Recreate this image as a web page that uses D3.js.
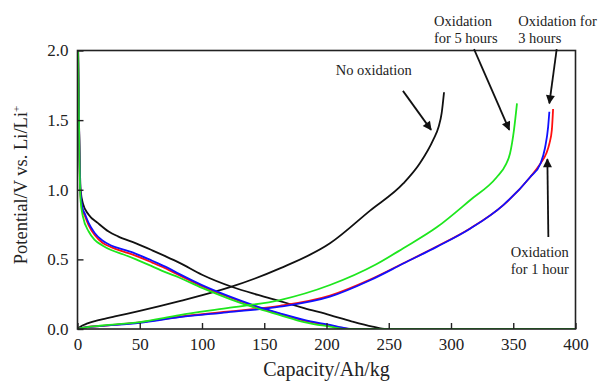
<!DOCTYPE html>
<html>
<head>
<meta charset="utf-8">
<script src="https://cdn.jsdelivr.net/npm/d3@7"></script>
<style>
    html, body { margin: 0; padding: 0; background: #fff; }
    svg { display: block; font-family: "Liberation Serif", "Times New Roman", serif; }
</style>
</head>
<body>
<div id="chart"></div>
<script>
// capacity (Ah/kg), potential (V)
const black_discharge = [[0.5, 2.0], [1, 1.6], [1.8, 1.2], [2.5, 1.0], [4.4, 0.9], [9, 0.82], [16.5, 0.76], [25, 0.7], [32.5, 0.665], [47, 0.615], [60, 0.565], [70, 0.525], [82, 0.475], [100, 0.39], [125, 0.3], [145, 0.245], [162.6, 0.2], [182, 0.15], [202.8, 0.1], [220, 0.055], [237, 0.017], [248, 0], [400, 0]];
const red_discharge = [[0.5, 2.0], [1, 1.6], [1.8, 1.13], [2.5, 0.95], [4, 0.855], [5.8, 0.815], [9, 0.745], [13.8, 0.675], [20, 0.62], [27, 0.588], [37, 0.556], [47, 0.525], [60, 0.477], [70, 0.438], [82, 0.385], [100, 0.307], [122.5, 0.226], [140, 0.17], [162.6, 0.108], [182, 0.06], [202.8, 0.025], [213, 0.008], [219, 0], [400, 0]];
const blue_discharge = [[0.5, 2.0], [1, 1.6], [1.8, 1.15], [2.5, 0.97], [4, 0.87], [5.8, 0.83], [9, 0.76], [13.8, 0.69], [20, 0.635], [27, 0.6], [37, 0.57], [47, 0.54], [60, 0.49], [70, 0.45], [82, 0.394], [100, 0.315], [122.5, 0.232], [140, 0.175], [162.6, 0.113], [182, 0.065], [202.8, 0.029], [213, 0.01], [219, 0], [400, 0]];
const green_discharge = [[0.5, 2.0], [1, 1.6], [1.8, 1.1], [2.5, 0.92], [4.4, 0.806], [9, 0.7], [13.8, 0.64], [20, 0.6], [27, 0.567], [37, 0.535], [47, 0.5], [60, 0.45], [70, 0.41], [82, 0.368], [100, 0.295], [122.5, 0.215], [140, 0.16], [162.6, 0.1], [182, 0.05], [202.8, 0.017], [215, 0], [400, 0]];

const black_charge = [[0, 0], [2, 0.015], [8, 0.04], [18, 0.065], [30, 0.09], [50, 0.13], [82, 0.2], [122.5, 0.3], [162.6, 0.435], [202.8, 0.615], [235, 0.85], [261.7, 1.045], [275, 1.19], [285.8, 1.36], [290, 1.45], [292.5, 1.55], [294.4, 1.7]];
const red_charge = [[0, 0], [5, 0.01], [20, 0.023], [50, 0.047], [82, 0.088], [120, 0.124], [162.6, 0.166], [202.8, 0.24], [235, 0.355], [261.7, 0.472], [288.5, 0.592], [315.3, 0.722], [342, 0.89], [363.5, 1.09], [372, 1.19], [376.5, 1.26], [379, 1.33], [381, 1.43], [382, 1.58]];
const blue_charge = [[0, 0], [5, 0.01], [20, 0.022], [50, 0.045], [82, 0.085], [120, 0.12], [162.6, 0.16], [202.8, 0.232], [235, 0.35], [261.7, 0.47], [288.5, 0.59], [315.3, 0.72], [342, 0.89], [363.5, 1.09], [372, 1.19], [375.5, 1.3], [378, 1.45], [379, 1.56]];
const green_charge = [[0, 0], [5, 0.01], [20, 0.025], [50, 0.05], [82, 0.1], [120, 0.15], [162.6, 0.208], [202.8, 0.316], [240, 0.465], [261.7, 0.58], [288.5, 0.73], [315.3, 0.925], [336.7, 1.09], [344, 1.18], [347.4, 1.26], [350.6, 1.43], [353, 1.62]];

const x_ticks = [0, 50, 100, 150, 200, 250, 300, 350, 400];
const y_ticks = [0, 0.5, 1.0, 1.5, 2.0];

// label lines, first baseline anchor (capacity, potential)
const notes = [
    { lines: ['No oxidation'], at: [207.4, 1.822] },
    { lines: ['Oxidation', 'for 5 hours'], at: [286.3, 2.177] },
    { lines: ['Oxidation for', '3 hours'], at: [354, 2.177] },
    { lines: ['Oxidation', 'for 1 hour'], at: [348, 0.52] },
];
// arrows: tail -> tip (capacity, potential)
const arrows = [
    [[261.4, 1.71], [284, 1.43]],
    [[318.5, 2.01], [346.8, 1.43]],
    [[384.9, 2.01], [379, 1.62]],
    [[378.2, 0.66], [377.4, 1.22]],
];

const width = 600;
const height = 382;
const margin = { top: 50.5, right: 24.5, bottom: 53, left: 77.5 };

const svg = d3.select('#chart')
    .append('svg')
    .attr('width', width)
    .attr('height', height);

const x = d3.scaleLinear().domain([0, 400]).range([margin.left, width - margin.right]);
const y = d3.scaleLinear().domain([0, 2]).range([height - margin.bottom, margin.top]);

const defs = svg.append('defs');
defs.append('marker')
    .attr('id', 'head')
    .attr('viewBox', '0 0 10 10')
    .attr('refX', 9)
    .attr('refY', 5)
    .attr('markerWidth', 10)
    .attr('markerHeight', 9)
    .attr('markerUnits', 'userSpaceOnUse')
    .attr('orient', 'auto')
    .append('path')
    .attr('d', 'M0,0 L10,5 L0,10 Z')
    .attr('fill', '#111');

defs.append('clipPath').attr('id', 'plot')
    .append('rect')
    .attr('x', margin.left)
    .attr('y', margin.top - 2)
    .attr('width', width - margin.left - margin.right)
    .attr('height', height - margin.top - margin.bottom + 2);

const line = d3.line()
    .x(d => x(d[0]))
    .y(d => y(d[1]))
    .curve(d3.curveMonotoneX);

const series = [
    { data: black_charge, color: '#111111' },
    { data: black_discharge, color: '#111111' },
    { data: red_charge, color: '#ff1010' },
    { data: red_discharge, color: '#ff1010' },
    { data: blue_charge, color: '#1010ff' },
    { data: blue_discharge, color: '#1010ff' },
    { data: green_charge, color: '#1ee61e' },
    { data: green_discharge, color: '#1ee61e' },
];

svg.append('g')
    .attr('clip-path', 'url(#plot)')
    .selectAll('path')
    .data(series)
    .enter()
    .append('path')
    .attr('fill', 'none')
    .attr('stroke', d => d.color)
    .attr('stroke-width', 1.8)
    .attr('d', d => line(d.data));

// frame
svg.append('rect')
    .attr('x', x(0))
    .attr('y', y(2))
    .attr('width', x(400) - x(0))
    .attr('height', y(0) - y(2))
    .attr('fill', 'none')
    .attr('stroke', '#222')
    .attr('stroke-width', 1.6);

const x_axis = svg.append('g')
    .attr('transform', `translate(0, ${y(0)})`)
    .call(d3.axisBottom(x).tickValues(x_ticks).tickSize(-6).tickPadding(9).tickFormat(d3.format('d')));

const y_axis = svg.append('g')
    .attr('transform', `translate(${x(0)}, 0)`)
    .call(d3.axisLeft(y).tickValues(y_ticks).tickSize(-6).tickPadding(9).tickFormat(d3.format('.1f')));

[x_axis, y_axis].forEach(axis => {
    axis.attr('font-family', null);
    axis.select('.domain').remove();
    axis.selectAll('.tick line').attr('stroke', '#222').attr('stroke-width', 1.4);
    axis.selectAll('.tick text')
        .attr('fill', '#222')
        .style('font-family', '"Liberation Serif", "Times New Roman", serif')
        .style('font-size', '17px');
});

svg.append('text')
    .attr('x', (x(0) + x(400)) / 2)
    .attr('y', 376)
    .attr('text-anchor', 'middle')
    .attr('fill', '#222')
    .style('font-size', '20px')
    .text('Capacity/Ah/kg');

const y_label = svg.append('text')
    .attr('transform', `translate(27, 185) rotate(-90)`)
    .attr('text-anchor', 'middle')
    .attr('fill', '#222')
    .style('font-size', '18.5px');
y_label.append('tspan').text('Potential/V vs. Li/Li');
y_label.append('tspan').attr('dy', -7).style('font-size', '11px').text('+');

// annotations
const note = svg.selectAll('.note')
    .data(notes)
    .enter()
    .append('text')
    .attr('class', 'note')
    .attr('fill', '#222')
    .style('font-size', '14.5px');

note.selectAll('tspan')
    .data(d => d.lines.map((t, i) => ({ t, i, at: d.at })))
    .enter()
    .append('tspan')
    .attr('x', d => x(d.at[0]))
    .attr('y', d => y(d.at[1]) + d.i * 17)
    .text(d => d.t);

svg.selectAll('.arrow')
    .data(arrows)
    .enter()
    .append('line')
    .attr('class', 'arrow')
    .attr('x1', d => x(d[0][0]))
    .attr('y1', d => y(d[0][1]))
    .attr('x2', d => x(d[1][0]))
    .attr('y2', d => y(d[1][1]))
    .attr('stroke', '#111')
    .attr('stroke-width', 1.8)
    .attr('marker-end', 'url(#head)');
</script>
</body>
</html>
